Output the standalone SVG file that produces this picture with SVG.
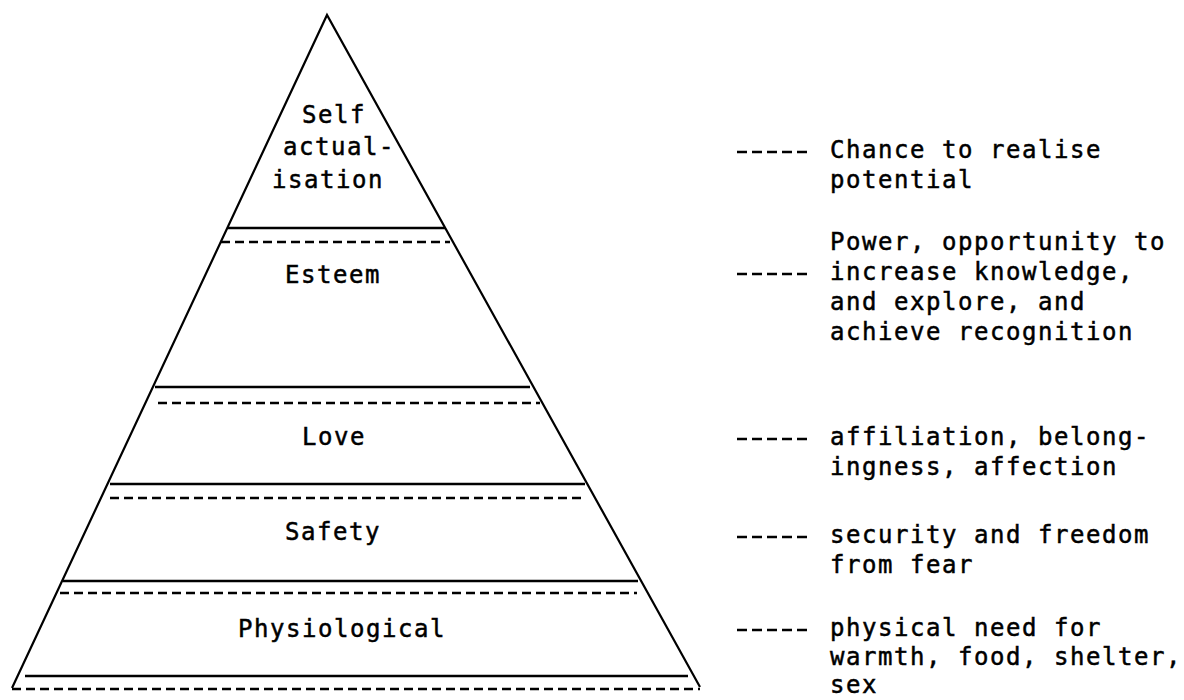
<svg xmlns="http://www.w3.org/2000/svg" width="1184" height="700" viewBox="0 0 1184 700">
<style>
.t{font-family:"DejaVu Sans Mono","Liberation Mono",monospace;font-size:24px;letter-spacing:1.55px;fill:#000;stroke:#000;stroke-width:0.5}
.edge{fill:none;stroke:#000;stroke-width:2.2;stroke-linejoin:miter}
.solid{stroke:#000;stroke-width:2.4;fill:none}
.dash{stroke:#000;stroke-width:2.4;fill:none;stroke-dasharray:9 5}
.lead{stroke:#000;stroke-width:2.4;fill:none;stroke-dasharray:10 5}
</style>
<rect width="1184" height="700" fill="#fff"/>
<g id="pyramid">
<polyline class="edge" points="12,688 327,15 700,687"/>
<line class="solid" x1="228" y1="228" x2="445" y2="228"/>
<line class="dash" x1="221" y1="242" x2="450" y2="242"/>
<line class="solid" x1="155" y1="387" x2="530" y2="387"/>
<line class="dash" x1="158" y1="403" x2="540" y2="403"/>
<line class="solid" x1="110" y1="484" x2="585" y2="484"/>
<line class="dash" x1="110" y1="498" x2="582" y2="498"/>
<line class="solid" x1="63" y1="581" x2="638" y2="581"/>
<line class="dash" x1="60" y1="593" x2="637" y2="593"/>
<line class="solid" x1="25" y1="676" x2="688" y2="676"/>
<line class="dash" x1="12" y1="689" x2="700" y2="689"/>
</g>
<g id="level-self">
<text class="t" x="302" y="123">Self</text>
<text class="t" x="283" y="155">actual-</text>
<text class="t" x="272" y="188">isation</text>
</g>
<g id="level-esteem"><text class="t" x="285" y="283">Esteem</text></g>
<g id="level-love"><text class="t" x="302" y="445">Love</text></g>
<g id="level-safety"><text class="t" x="285" y="540">Safety</text></g>
<g id="level-physiological"><text class="t" x="238" y="637">Physiological</text></g>
<g id="connectors">
<line class="lead" x1="737" y1="152" x2="812" y2="152"/>
<line class="lead" x1="737" y1="274" x2="812" y2="274"/>
<line class="lead" x1="737" y1="439" x2="812" y2="439"/>
<line class="lead" x1="737" y1="537" x2="812" y2="537"/>
<line class="lead" x1="737" y1="630" x2="812" y2="630"/>
</g>
<g id="note-self">
<text class="t" x="830" y="158">Chance to realise</text>
<text class="t" x="830" y="188">potential</text>
</g>
<g id="note-esteem">
<text class="t" x="830" y="250">Power, opportunity to</text>
<text class="t" x="830" y="280">increase knowledge,</text>
<text class="t" x="830" y="310">and explore, and</text>
<text class="t" x="830" y="340">achieve recognition</text>
</g>
<g id="note-love">
<text class="t" x="830" y="445">affiliation, belong-</text>
<text class="t" x="830" y="475">ingness, affection</text>
</g>
<g id="note-safety">
<text class="t" x="830" y="543">security and freedom</text>
<text class="t" x="830" y="573">from fear</text>
</g>
<g id="note-physiological">
<text class="t" x="830" y="636">physical need for</text>
<text class="t" x="830" y="665">warmth, food, shelter,</text>
<text class="t" x="830" y="693">sex</text>
</g>
</svg>
